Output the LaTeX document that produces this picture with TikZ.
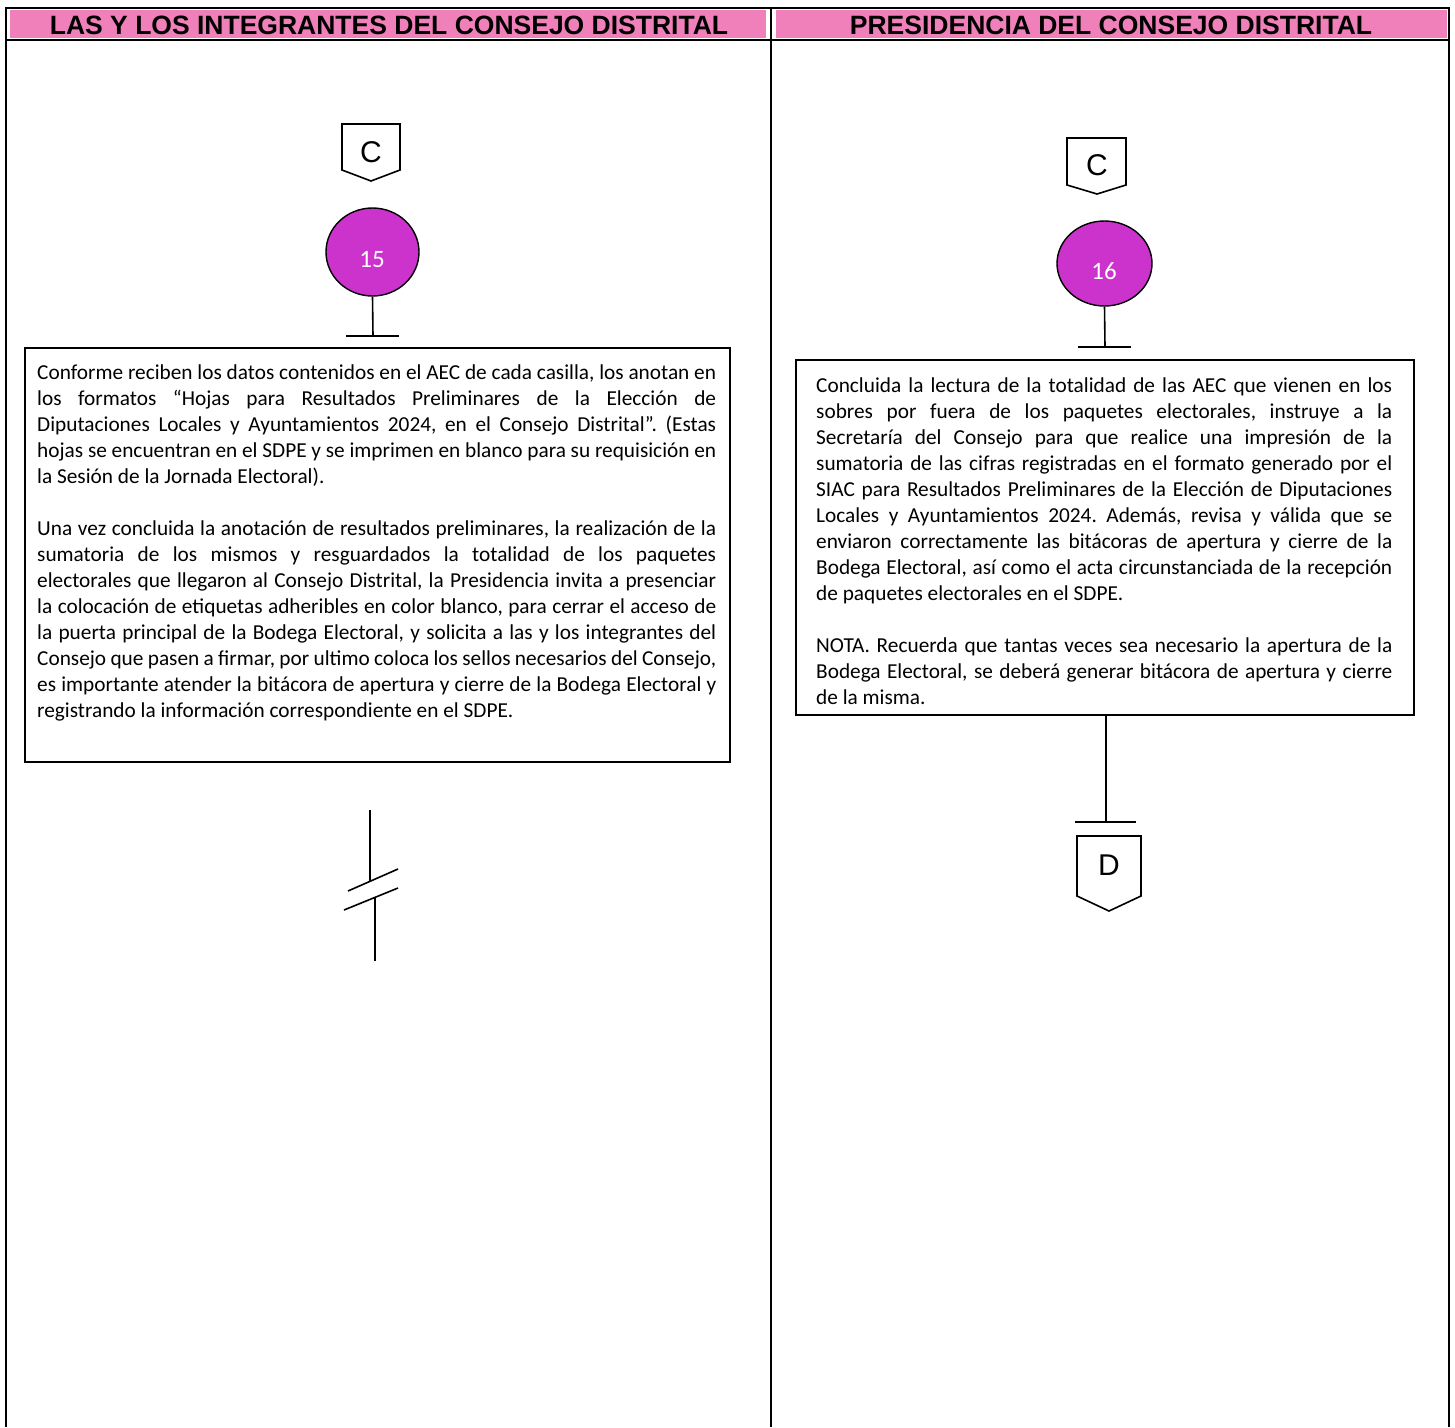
\documentclass[tikz,border=0pt]{standalone}
\usepackage{fontspec}
\setmainfont{Carlito}
\newfontfamily\hdrfont{Liberation Sans}
\usetikzlibrary{shapes.geometric}
\definecolor{hdrpink}{RGB}{240,128,185}
\definecolor{stepmag}{RGB}{204,51,204}
\begin{document}
\begin{tikzpicture}[x=1pt,y=-1pt,
  tableline/.style={line width=2pt},
  thinline/.style={line width=1.6pt},
  hdrcell/.style={fill=hdrpink},
  hdrtext/.style={font=\hdrfont\bfseries\fontsize{26.5}{30}\selectfont, inner sep=0},
  stepbox/.style={draw, line width=1.6pt, anchor=north west, inner sep=0},
  stepnum/.style={ellipse, draw, line width=1.4pt, fill=stepmag, inner sep=0},
  numtext/.style={text=white, font=\fontsize{25}{28}\selectfont, inner sep=0},
  bodytext/.style={anchor=base west, inner sep=0, align=justify, font=\frenchspacing\fontsize{21.3}{26}\selectfont},
  offtext/.style={font=\hdrfont\fontsize{30}{32}\selectfont, inner sep=0}
]
\useasboundingbox (0,0) rectangle (1455,1427);
% header
\fill[hdrcell] (10,10) rectangle (766,38);
\fill[hdrcell] (776,10) rectangle (1447,38);
\node[hdrtext] (h1) at (389,25) {LAS Y LOS INTEGRANTES DEL CONSEJO DISTRITAL};
\node[hdrtext] (h2) at (1111,25) {PRESIDENCIA DEL CONSEJO DISTRITAL};
% table lines
\draw[tableline] (6,8) -- (1449,8);
\draw[tableline] (6,40) -- (1449,40);
\draw[tableline] (6,7) -- (6,1427);
\draw[tableline] (771,7) -- (771,1427);
\draw[tableline] (1449,7) -- (1449,1427);

% ---------- left column ----------
\draw[thinline] (342,124) -- (400,124) -- (400,170) -- (371,181) -- (342,170) -- cycle;
\node[offtext] (offC1) at (371,152) {C};
\node[stepnum, minimum width=93, minimum height=88] (c15) at (372.5,252) {};
\node[numtext] (n15) at (372,260) {15};
\coordinate (bar15) at (373,336);
\coordinate (bar15l) at (346,336);
\coordinate (bar15r) at (399,336);
\draw[thinline] (c15.south) -- (bar15);
\draw[thinline] (bar15l) -- (bar15r);
\node[stepbox, minimum width=705, minimum height=414] (b15) at (24,347) {};
\node[bodytext, text width=679pt] (t15) at (37,379) {%
Conforme reciben los datos contenidos en el AEC de cada casilla, los anotan en\linebreak
los formatos “Hojas para Resultados Preliminares de la Elección de\linebreak
Diputaciones Locales y Ayuntamientos 2024, en el Consejo Distrital”. (Estas\linebreak
hojas se encuentran en el SDPE y se imprimen en blanco para su requisición en\linebreak
la Sesión de la Jornada Electoral).\par\vspace{26pt}
Una vez concluida la anotación de resultados preliminares, la realización de la\linebreak
sumatoria de los mismos y resguardados la totalidad de los paquetes\linebreak
electorales que llegaron al Consejo Distrital, la Presidencia invita a presenciar\linebreak
la colocación de etiquetas adheribles en color blanco, para cerrar el acceso de\linebreak
la puerta principal de la Bodega Electoral, y solicita a las y los integrantes del\linebreak
Consejo que pasen a firmar, por ultimo coloca los sellos necesarios del Consejo,\linebreak
es importante atender la bitácora de apertura y cierre de la Bodega Electoral y\linebreak
registrando la información correspondiente en el SDPE.};
% break symbol
\coordinate (brA) at (370,810);
\coordinate (brB) at (370,881);
\coordinate (brC) at (375,897);
\coordinate (brD) at (375,961);
\draw[thinline] (brA) -- (brB);
\draw[thinline] (brC) -- (brD);
\draw[thinline] (348,891) -- (398,869);
\draw[thinline] (344,910) -- (398,888);

% ---------- right column ----------
\draw[thinline] (1067,138) -- (1126,138) -- (1126,185) -- (1097,194) -- (1067,185) -- cycle;
\node[offtext] (offC2) at (1097,165) {C};
\node[stepnum, minimum width=95, minimum height=85] (c16) at (1104.5,263.5) {};
\node[numtext] (n16) at (1104,271) {16};
\coordinate (bar16) at (1105,347);
\coordinate (bar16l) at (1078,347);
\coordinate (bar16r) at (1131,347);
\draw[thinline] (c16.south) -- (bar16);
\draw[thinline] (bar16l) -- (bar16r);
\node[stepbox, minimum width=618, minimum height=355] (b16) at (795,359) {};
\node[bodytext, text width=576pt] (t16) at (816,392) {%
Concluida la lectura de la totalidad de las AEC que vienen en los\linebreak
sobres por fuera de los paquetes electorales, instruye a la\linebreak
Secretaría del Consejo para que realice una impresión de la\linebreak
sumatoria de las cifras registradas en el formato generado por el\linebreak
SIAC para Resultados Preliminares de la Elección de Diputaciones\linebreak
Locales y Ayuntamientos 2024. Además, revisa y válida que se\linebreak
enviaron correctamente las bitácoras de apertura y cierre de la\linebreak
Bodega Electoral, así como el acta circunstanciada de la recepción\linebreak
de paquetes electorales en el SDPE.\par\vspace{26pt}
NOTA. Recuerda que tantas veces sea necesario la apertura de la\linebreak
Bodega Electoral, se deberá generar bitácora de apertura y cierre\linebreak
de la misma.};
\coordinate (bar17) at (1106,822);
\coordinate (bar17l) at (1075,822);
\coordinate (bar17r) at (1136,822);
\draw[thinline] (b16.south -| bar17) -- (bar17);
\draw[thinline] (bar17l) -- (bar17r);
\draw[thinline] (1077,836) -- (1141,836) -- (1141,896) -- (1109,911) -- (1077,896) -- cycle;
\node[offtext] (offD) at (1109,865) {D};
\end{tikzpicture}
\end{document}
